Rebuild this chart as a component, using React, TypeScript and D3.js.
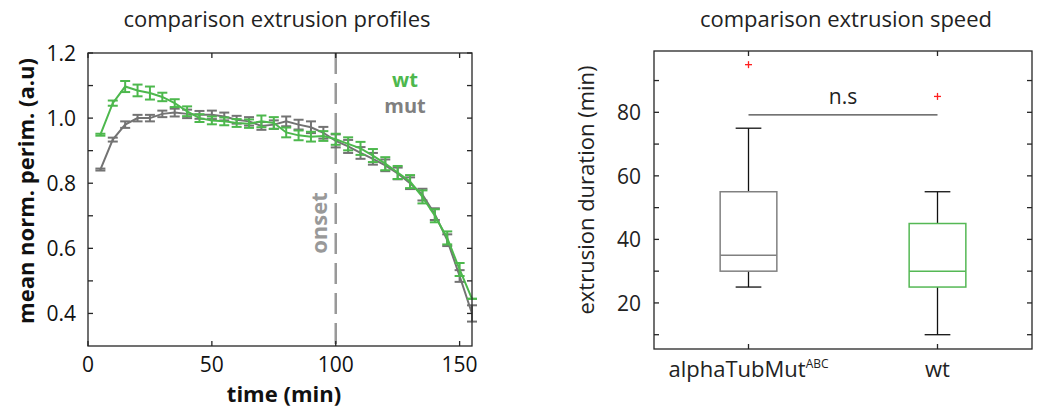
import React from "react";
import * as d3 from "d3";

const times = [5, 10, 15, 20, 25, 30, 35, 40, 45, 50, 55, 60, 65, 70, 75, 80, 85, 90, 95, 100, 105, 110, 115, 120, 125, 130, 135, 140, 145, 150, 155];
const wtMean = [0.949, 1.046, 1.097, 1.085, 1.077, 1.065, 1.046, 1.021, 1.0, 0.993, 0.99, 0.985, 0.983, 0.99, 0.985, 0.956, 0.947, 0.943, 0.945, 0.935, 0.921, 0.907, 0.885, 0.86, 0.833, 0.805, 0.758, 0.7, 0.632, 0.535, 0.445];
const wtErr = [0.003, 0.008, 0.017, 0.018, 0.02, 0.013, 0.012, 0.015, 0.012, 0.012, 0.012, 0.012, 0.013, 0.018, 0.018, 0.015, 0.015, 0.015, 0.015, 0.017, 0.02, 0.02, 0.02, 0.02, 0.02, 0.02, 0.02, 0.02, 0.02, 0.02, 0.0];
const mutMean = [0.842, 0.934, 0.98, 1.0, 1.0, 1.013, 1.017, 1.013, 1.01, 1.01, 1.005, 0.995, 0.99, 0.976, 0.98, 0.99, 0.98, 0.972, 0.955, 0.93, 0.913, 0.893, 0.875, 0.855, 0.83, 0.8, 0.765, 0.705, 0.625, 0.515, 0.4];
const mutErr = [0.003, 0.006, 0.01, 0.01, 0.01, 0.01, 0.012, 0.013, 0.012, 0.013, 0.012, 0.012, 0.013, 0.012, 0.013, 0.015, 0.015, 0.018, 0.018, 0.02, 0.02, 0.018, 0.018, 0.018, 0.018, 0.018, 0.018, 0.018, 0.018, 0.018, 0.025];

const leftYTicks = [0.4, 0.5, 0.6, 0.7, 0.8, 0.9, 1.0, 1.1, 1.2];
const leftYLabels = [0.4, 0.6, 0.8, 1.0, 1.2];
const leftXTicks = [0, 50, 100, 150];
const onsetTime = 100;

const groups = ["alphaTubMut", "wt"];
const groupSup = ["ABC", ""];
const q1 = [30, 25];
const median = [35, 30];
const q3 = [55, 45];
const whiskLo = [25, 10];
const whiskHi = [75, 55];
const outliers = [[95], [85]];
const sigLevel = 79.2;
const rightYTicks = [10, 20, 30, 40, 50, 60, 70, 80, 90];
const rightYLabels = [20, 40, 60, 80];

const GREEN = "#4db84d";
const GRAY = "#737373";
const AX = "#262626";
const FONT = "'Open Sans', 'Noto Sans', sans-serif";

export default function App() {
  // left panel
  const L = { x0: 88, x1: 472, y0: 53, y1: 346 };
  const x = d3.scaleLinear().domain([0, 155]).range([L.x0, L.x1]);
  const y = d3.scaleLinear().domain([0.3, 1.2]).range([L.y1, L.y0]);
  const line = d3.line<number>().x((_, i) => x(times[i])).y((d) => y(d));

  // right panel
  const R = { x0: 654, x1: 1032, y0: 51, y1: 349 };
  const xb = d3.scaleLinear().domain([0.5, 2.5]).range([R.x0, R.x1]);
  const yb = d3.scaleLinear().domain([5.5, 99.3]).range([R.y1, R.y0]);
  const boxHalf = 0.15;
  const capHalf = 0.068;
  const boxColors = ["#808080", "#55b855"];

  const tk = 5;

  const series = (mean: number[], err: number[], color: string) => (
    <g>
      <path d={line(mean) || ""} fill="none" stroke={color} strokeWidth={2} />
      {mean.map((m, i) => {
        const cx = x(times[i]);
        const yt = y(m + err[i]);
        const yl = y(m - err[i]);
        return (
          <g key={i} stroke={color} strokeWidth={2}>
            <line x1={cx} x2={cx} y1={yt} y2={yl} />
            <line x1={cx - 5} x2={cx + 5} y1={yt} y2={yt} />
            <line x1={cx - 5} x2={cx + 5} y1={yl} y2={yl} />
          </g>
        );
      })}
    </g>
  );

  return (
    <svg width={1041} height={416} style={{ position: "absolute", left: 0, top: 0 }} fontFamily={FONT}>
      <rect width={1041} height={416} fill="#fff" />
      {/* Left titles */}
      <text x={277} y={27} textAnchor="middle" fontSize={22} fill="#222">comparison extrusion profiles</text>
      {/* data */}
      <line x1={x(onsetTime)} x2={x(onsetTime)} y1={L.y0} y2={L.y1} stroke="#999" strokeWidth={2.5} strokeDasharray="21,9" />
      <text transform={`translate(${318},${223}) rotate(-90)`} textAnchor="middle" dominantBaseline="central" fontSize={22} fontWeight="bold" fill="#999">onset</text>
      {series(mutMean, mutErr, GRAY)}
      {series(wtMean, wtErr, GREEN)}
      <text x={405} y={87} textAnchor="middle" fontSize={20} fontWeight="bold" fill={GREEN}>wt</text>
      <text x={405} y={113} textAnchor="middle" fontSize={20} fontWeight="bold" fill="#808080">mut</text>
      {/* axes box */}
      <rect x={L.x0} y={L.y0} width={L.x1 - L.x0} height={L.y1 - L.y0} fill="none" stroke={AX} strokeWidth={1.3} />
      {leftYTicks.map((t) => (
        <g key={t} stroke={AX} strokeWidth={1.3}>
          <line x1={L.x0} x2={L.x0 + tk} y1={y(t)} y2={y(t)} />
          <line x1={L.x1} x2={L.x1 - tk} y1={y(t)} y2={y(t)} />
        </g>
      ))}
      {leftXTicks.map((t) => (
        <g key={t} stroke={AX} strokeWidth={1.3}>
          <line x1={x(t)} x2={x(t)} y1={L.y1} y2={L.y1 - tk} />
          <line x1={x(t)} x2={x(t)} y1={L.y0} y2={L.y0 + tk} />
        </g>
      ))}
      {leftYLabels.map((t) => (
        <text key={t} x={76} y={y(t)} textAnchor="end" dominantBaseline="central" fontSize={21} fill="#111">{d3.format(".1f")(t)}</text>
      ))}
      {leftXTicks.map((t) => (
        <text key={t} x={x(t)} y={372} textAnchor="middle" fontSize={21} fill="#111">{t}</text>
      ))}
      <text x={284} y={402} textAnchor="middle" fontSize={22} fontWeight="bold" fill="#111">time (min)</text>
      <text transform={`translate(${25},${191}) rotate(-90)`} textAnchor="middle" dominantBaseline="central" fontSize={22} fontWeight="bold" fill="#111">mean norm. perim. (a.u)</text>

      {/* Right panel */}
      <text x={846} y={27} textAnchor="middle" fontSize={22} fill="#222">comparison extrusion speed</text>
      <line x1={xb(1)} x2={xb(2)} y1={yb(sigLevel)} y2={yb(sigLevel)} stroke="#444" strokeWidth={1.3} />
      <text x={(xb(1) + xb(2)) / 2} y={yb(sigLevel) - 11} textAnchor="middle" fontSize={21} fill="#222">n.s</text>
      {groups.map((g, i) => {
        const cx = xb(i + 1);
        return (
          <g key={g}>
            <line x1={cx} x2={cx} y1={yb(q3[i])} y2={yb(whiskHi[i])} stroke="#111" strokeWidth={1.3} />
            <line x1={cx} x2={cx} y1={yb(q1[i])} y2={yb(whiskLo[i])} stroke="#111" strokeWidth={1.3} />
            <line x1={xb(i + 1 - capHalf)} x2={xb(i + 1 + capHalf)} y1={yb(whiskHi[i])} y2={yb(whiskHi[i])} stroke="#111" strokeWidth={1.3} />
            <line x1={xb(i + 1 - capHalf)} x2={xb(i + 1 + capHalf)} y1={yb(whiskLo[i])} y2={yb(whiskLo[i])} stroke="#111" strokeWidth={1.3} />
            <rect x={xb(i + 1 - boxHalf)} y={yb(q3[i])} width={xb(i + 1 + boxHalf) - xb(i + 1 - boxHalf)} height={yb(q1[i]) - yb(q3[i])} fill="none" stroke={boxColors[i]} strokeWidth={1.5} />
            <line x1={xb(i + 1 - boxHalf)} x2={xb(i + 1 + boxHalf)} y1={yb(median[i])} y2={yb(median[i])} stroke={boxColors[i]} strokeWidth={1.5} />
            {outliers[i].map((o, j) => (
              <g key={j} stroke="#ff2020" strokeWidth={1.3}>
                <line x1={cx - 3.5} x2={cx + 3.5} y1={yb(o)} y2={yb(o)} />
                <line x1={cx} x2={cx} y1={yb(o) - 3.5} y2={yb(o) + 3.5} />
              </g>
            ))}
          </g>
        );
      })}
      <rect x={R.x0} y={R.y0} width={R.x1 - R.x0} height={R.y1 - R.y0} fill="none" stroke={AX} strokeWidth={1.3} />
      {rightYTicks.map((t) => (
        <g key={t} stroke={AX} strokeWidth={1.3}>
          <line x1={R.x0} x2={R.x0 + tk} y1={yb(t)} y2={yb(t)} />
          <line x1={R.x1} x2={R.x1 - tk} y1={yb(t)} y2={yb(t)} />
        </g>
      ))}
      {groups.map((g, i) => (
        <g key={g} stroke={AX} strokeWidth={1.3}>
          <line x1={xb(i + 1)} x2={xb(i + 1)} y1={R.y1} y2={R.y1 - tk} />
          <line x1={xb(i + 1)} x2={xb(i + 1)} y1={R.y0} y2={R.y0 + tk} />
        </g>
      ))}
      {rightYLabels.map((t) => (
        <text key={t} x={641} y={yb(t)} textAnchor="end" dominantBaseline="central" fontSize={21} fill="#222">{t}</text>
      ))}
      {groups.map((g, i) => (
        <text key={g} x={xb(i + 1)} y={377} textAnchor="middle" fontSize={22} fill="#222">
          {g}
          {groupSup[i] ? <tspan fontSize={12} dy={-9}>{groupSup[i]}</tspan> : null}
        </text>
      ))}
      <text transform={`translate(${585},${190}) rotate(-90)`} textAnchor="middle" dominantBaseline="central" fontSize={22} fill="#222">extrusion duration (min)</text>
    </svg>
  );
}
